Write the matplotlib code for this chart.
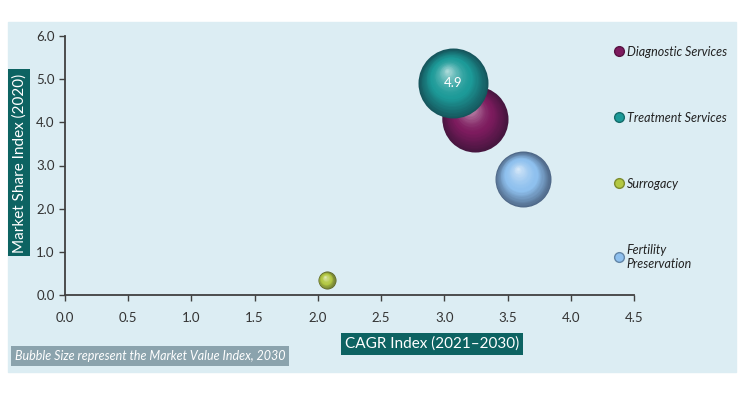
import numpy as np
import matplotlib
matplotlib.use("Agg")
import matplotlib.pyplot as plt
import matplotlib.colors as mcolors
from matplotlib.transforms import offset_copy
from matplotlib.patches import Rectangle
from matplotlib.lines import Line2D

# Bubble chart data
segments = ['Diagnostic Services', 'Treatment Services', 'Surrogacy', 'Fertility\nPreservation']
cagr_index = [3.24, 3.07, 2.07, 3.62]
share_index = [4.08, 4.90, 0.34, 2.68]
value_index = [4.45, 5.0, 0.33, 3.2]
colors = ['#7d1b5e', '#1c9a98', '#b3c842', '#8ec0ee']
labelled = [False, True, False, False]
draw_order = [0, 1, 3, 2]

x_ticks = [0.0, 0.5, 1.0, 1.5, 2.0, 2.5, 3.0, 3.5, 4.0, 4.5]
y_ticks = [0.0, 1.0, 2.0, 3.0, 4.0, 5.0, 6.0]

SIZE_SCALE = 508
plt.rcParams['font.family'] = ['Lato', 'DejaVu Sans']

fig = plt.figure(figsize=(7.41, 3.93), dpi=100)
fig.patches.append(Rectangle((8 / 741, 1 - 372 / 393), 728 / 741, 350 / 393,
                             transform=fig.transFigure, color='#dcedf3', zorder=-5))
ax = fig.add_axes([65 / 741, 1 - 295 / 393, 569 / 741, 259 / 393])
ax.set_facecolor('none')


def mix(c1, c2, t):
    a, b = np.array(mcolors.to_rgb(c1)), np.array(mcolors.to_rgb(c2))
    return tuple(a + (b - a) * t)


# fake 3D sphere: stacked circles shifting toward an upper-left highlight
def sphere(x, y, s, base, z):
    d = np.sqrt(s)  # diameter in points
    dark = mix(base, '#101020', 0.5)
    light = mix(base, 'white', 0.7)
    hx, hy = -0.18 * d / 2, 0.38 * d / 2
    n = 30
    for k in range(n):
        f = 1 - k / n
        t = 1 - f
        if t < 0.4:
            c = mix(dark, base, t / 0.4)
        else:
            c = mix(base, light, ((t - 0.4) / 0.6) ** 1.6)
        tr = offset_copy(ax.transData, fig=fig, x=(1 - f) * hx, y=(1 - f) * hy, units='points')
        ax.scatter([x], [y], s=s * f * f, color=c, linewidths=0, transform=tr, zorder=z + k * 0.001)


for i, idx in enumerate(draw_order):
    sphere(cagr_index[idx], share_index[idx], value_index[idx] * SIZE_SCALE, colors[idx], 3 + i)
    if labelled[idx]:
        ax.text(cagr_index[idx], share_index[idx], f"{share_index[idx]:.1f}", color='white',
                ha='center', va='center', fontsize=9.5, zorder=10)

ax.set_xlim(0, 4.5)
ax.set_ylim(0, 6)
ax.set_xticks(x_ticks)
ax.set_yticks(y_ticks)
ax.set_xticklabels([f"{v:.1f}" for v in x_ticks])
ax.set_yticklabels([f"{v:.1f}" for v in y_ticks])
ax.tick_params(colors='#404040', labelsize=9.5, length=4, width=1, labelcolor='#333333')
ax.tick_params(axis='x', pad=8)
for side in ['top', 'right']:
    ax.spines[side].set_visible(False)
for side in ['left', 'bottom']:
    ax.spines[side].set_color('#404040')
    ax.spines[side].set_linewidth(1.3)

ax.set_ylabel('Market Share Index (2020)', color='white', fontsize=11,
              bbox=dict(boxstyle='square,pad=0.25', fc='#0d6362', ec='none'))
ax.yaxis.set_label_coords(-0.068, 0.51)
ax.set_xlabel('CAGR Index (2021\u20132030)', color='white', fontsize=11,
              bbox=dict(boxstyle='square,pad=0.25', fc='#0d6362', ec='none'))
ax.xaxis.set_label_coords(0.645, -0.16)

fig.text(15 / 741, 1 - 356 / 393, 'Bubble Size represent the Market Value Index, 2030',
         color='white', fontsize=9, style='italic', va='center',
         bbox=dict(boxstyle='square,pad=0.3', fc='#8ba3ad', ec='none'))

handles = [Line2D([], [], marker='o', ls='none', markersize=7, color=c,
                  markeredgecolor=mix(c, 'black', 0.3)) for c in colors]
leg = ax.legend(handles, segments, loc='upper left', bbox_to_anchor=(0.963, 0.962),
                frameon=False, labelspacing=4.32, handletextpad=0.1, handlelength=1.0,
                borderpad=0, borderaxespad=0, prop={'style': 'italic', 'size': 9})
for t in leg.get_texts():
    t.set_color('#222222')

fig.savefig('out.png', dpi=100)
